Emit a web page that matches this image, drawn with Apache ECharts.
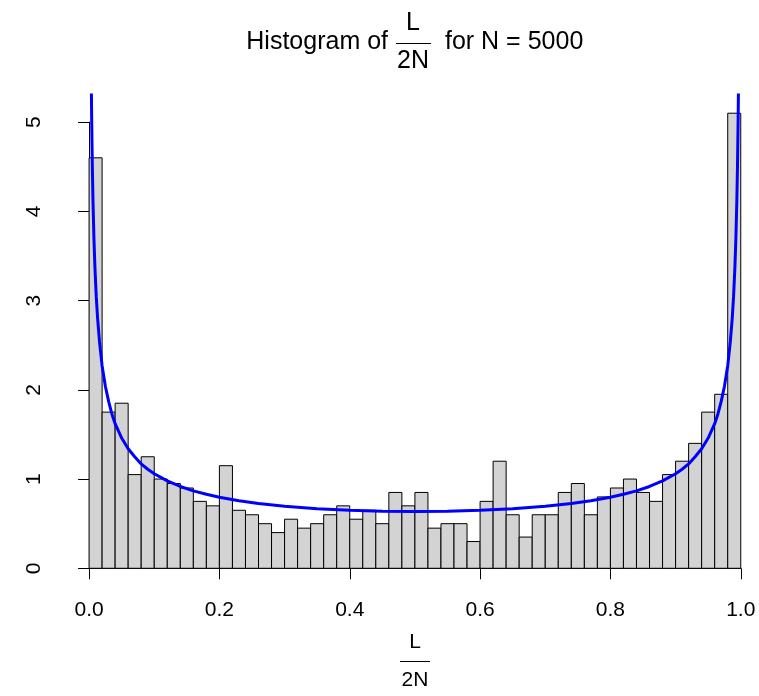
<!DOCTYPE html>
<html>
<head>
<meta charset="utf-8">
<script src="https://cdn.jsdelivr.net/npm/echarts@6/dist/echarts.min.js"></script>
<style>
    html, body {margin: 0; padding: 0; background: #fff;}
    #chart {width: 759px; height: 696px;}
</style>
</head>
<body>
<div id="chart"></div>
<script>
// histogram breaks (bin width 0.02) and density of each bin
var breaks = [0.00, 0.02, 0.04, 0.06, 0.08, 0.10, 0.12, 0.14, 0.16, 0.18,
    0.20, 0.22, 0.24, 0.26, 0.28, 0.30, 0.32, 0.34, 0.36, 0.38,
    0.40, 0.42, 0.44, 0.46, 0.48, 0.50, 0.52, 0.54, 0.56, 0.58,
    0.60, 0.62, 0.64, 0.66, 0.68, 0.70, 0.72, 0.74, 0.76, 0.78,
    0.80, 0.82, 0.84, 0.86, 0.88, 0.90, 0.92, 0.94, 0.96, 0.98, 1.00];
var density = [4.60, 1.75, 1.85, 1.05, 1.25, 1.00, 0.95, 0.90, 0.75, 0.70,
    1.15, 0.65, 0.60, 0.50, 0.40, 0.55, 0.45, 0.50, 0.60, 0.70,
    0.55, 0.65, 0.50, 0.85, 0.70, 0.85, 0.45, 0.50, 0.50, 0.30,
    0.75, 1.20, 0.60, 0.35, 0.60, 0.60, 0.85, 0.95, 0.60, 0.80,
    0.90, 1.00, 0.85, 0.75, 1.05, 1.20, 1.40, 1.75, 1.95, 5.10];

// blue density curve
var curveX = [0.0035, 0.004, 0.005, 0.006, 0.0075, 0.009, 0.011, 0.013, 0.016, 0.02,
    0.025, 0.03, 0.035, 0.04, 0.05, 0.06, 0.07, 0.08, 0.09, 0.10,
    0.12, 0.14, 0.16, 0.18, 0.20, 0.23, 0.26, 0.30, 0.35, 0.40, 0.45,
    0.50, 0.55, 0.60, 0.65, 0.70, 0.74, 0.77, 0.80, 0.82, 0.84,
    0.86, 0.88, 0.90, 0.91, 0.92, 0.93, 0.94, 0.95, 0.96, 0.965,
    0.97, 0.975, 0.98, 0.984, 0.987, 0.989, 0.991, 0.9925, 0.994, 0.995, 0.996, 0.9965];
var curveY = [5.39, 5.04, 4.51, 4.12, 3.69, 3.37, 3.05, 2.81, 2.54, 2.27,
    2.04, 1.87, 1.73, 1.62, 1.46, 1.34, 1.25, 1.17, 1.11, 1.06,
    0.98, 0.917, 0.868, 0.829, 0.796, 0.756, 0.726, 0.695, 0.667, 0.650, 0.640,
    0.637, 0.640, 0.650, 0.667, 0.695, 0.726, 0.756, 0.796, 0.829, 0.868,
    0.917, 0.98, 1.06, 1.11, 1.17, 1.25, 1.34, 1.46, 1.62, 1.73,
    1.87, 2.04, 2.27, 2.54, 2.81, 3.05, 3.37, 3.69, 4.12, 4.51, 5.04, 5.39];

var fontName = "'Liberation Sans', Arial, sans-serif";

var bins = [];
for (var i = 0; i < density.length; i++) {
    bins.push([breaks[i], breaks[i + 1], density[i]]);
}
var curve = [];
for (var j = 0; j < curveX.length; j++) {
    curve.push([curveX[j], curveY[j]]);
}

function txt(str, x, y, size, align) {
    return {
        type: 'text', x: x, y: y, silent: true,
        style: {text: str, fill: '#000', font: size + 'px ' + fontName, align: align, verticalAlign: 'middle'}
    };
}
function bar(x1, x2, y) {
    return {type: 'line', silent: true, shape: {x1: x1, y1: y, x2: x2, y2: y}, style: {stroke: '#000', lineWidth: 1}};
}

var myChart = echarts.init(document.getElementById('chart'));

var option = {
    animation: false,
    backgroundColor: '#fff',
    grid: [
        // plot region (data)
        {left: 63, right: 0, top: 95, bottom: 109.5},
        // axes only span the tick range
        {left: 89.07, width: 651.7, top: 122.1, bottom: 127.7}
    ],
    xAxis: [
        {gridIndex: 0, type: 'value', min: -0.04, max: 1.028, show: false},
        {
            gridIndex: 1, type: 'value', min: 0, max: 1, interval: 0.2, offset: 18,
            axisLine: {show: true, lineStyle: {color: '#000', width: 1}},
            axisTick: {show: true, length: 11, lineStyle: {color: '#000', width: 1}},
            axisLabel: {
                margin: 13, fontSize: 21, color: '#000', fontFamily: fontName,
                formatter: function (v) { return v.toFixed(1); }
            },
            splitLine: {show: false}
        }
    ],
    yAxis: [
        {gridIndex: 0, type: 'value', min: -0.204, max: 5.304, show: false},
        {
            gridIndex: 1, type: 'value', min: 0, max: 5, interval: 1, offset: 26,
            axisLine: {show: true, lineStyle: {color: '#000', width: 1}},
            axisTick: {show: true, length: 11, lineStyle: {color: '#000', width: 1}},
            axisLabel: {margin: 18, fontSize: 21, color: '#000', fontFamily: fontName, rotate: 90},
            splitLine: {show: false}
        }
    ],
    series: [
        {
            type: 'custom',
            xAxisIndex: 0, yAxisIndex: 0,
            data: bins,
            encode: {x: [0, 1], y: 2},
            renderItem: function (params, api) {
                var p0 = api.coord([api.value(0), api.value(2)]);
                var p1 = api.coord([api.value(1), 0]);
                return {
                    type: 'rect',
                    shape: {x: p0[0], y: p0[1], width: p1[0] - p0[0], height: p1[1] - p0[1]},
                    style: {fill: '#D3D3D3', stroke: '#000', lineWidth: 1}
                };
            }
        },
        {
            type: 'line',
            xAxisIndex: 0, yAxisIndex: 0,
            data: curve,
            showSymbol: false,
            clip: true,
            z: 5,
            lineStyle: {color: '#0000FF', width: 3}
        }
    ],
    graphic: [
        // title: Histogram of L/2N for N = 5000
        txt('Histogram of', 388, 42, 25, 'right'),
        txt('L', 413, 23, 25, 'center'),
        bar(396, 431, 43.5),
        txt('2N', 413, 61, 25, 'center'),
        txt('for N = 5000', 445, 42, 25, 'left'),
        // x axis label: L/2N
        txt('L', 415, 642, 21, 'center'),
        bar(400, 430, 661.5),
        txt('2N', 415, 680, 21, 'center')
    ]
};
myChart.setOption(option);
</script>
</body>
</html>
